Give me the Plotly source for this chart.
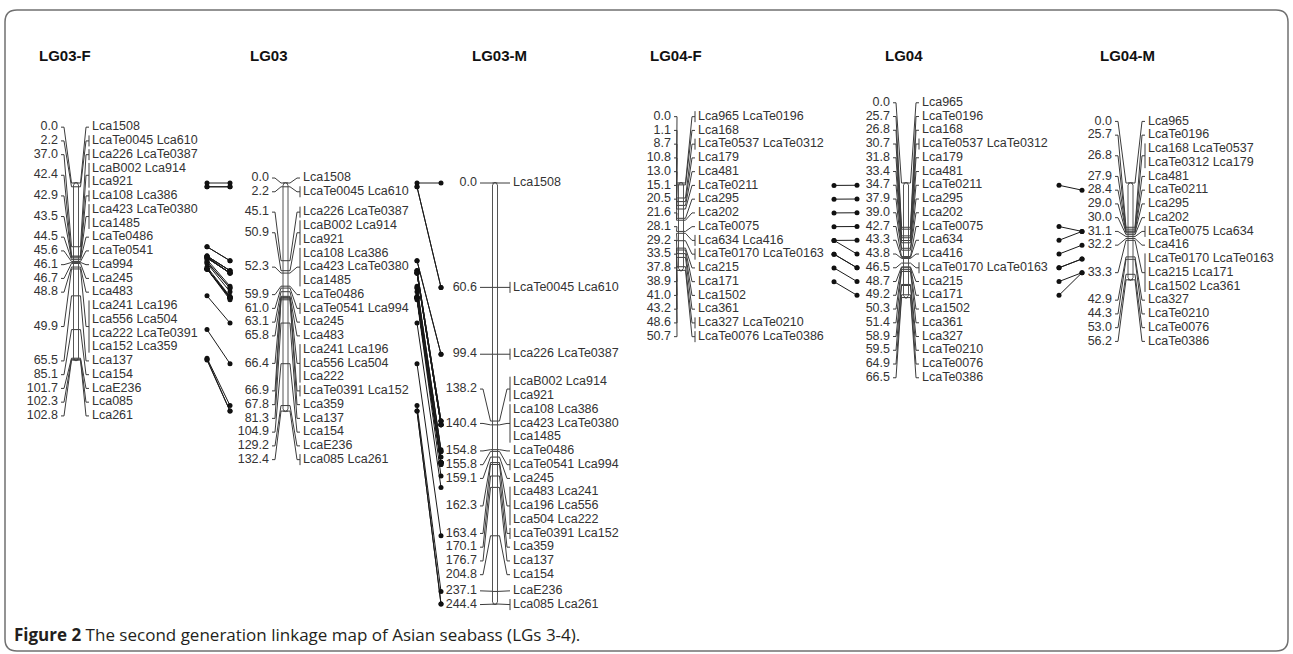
import plotly.graph_objects as go

# ---------------- data ----------------
TITLES = ["LG03-F", "LG03", "LG03-M", "LG04-F", "LG04", "LG04-M"]

LG03F_pos = [0.0, 2.2, 37.0, 42.4, 42.9, 43.5, 44.5, 45.6, 46.1, 46.7, 48.8, 49.9, 65.5, 85.1, 101.7, 102.3, 102.8]
LG03F_loci = [["Lca1508"], ["LcaTe0045", "Lca610"], ["Lca226", "LcaTe0387"], ["LcaB002", "Lca914", "Lca921"],
              ["Lca108", "Lca386"], ["Lca423", "LcaTe0380", "Lca1485"], ["LcaTe0486"], ["LcaTe0541"], ["Lca994"],
              ["Lca245"], ["Lca483"],
              ["Lca241", "Lca196", "Lca556", "Lca504", "Lca222", "LcaTe0391", "Lca152", "Lca359"],
              ["Lca137"], ["Lca154"], ["LcaE236"], ["Lca085"], ["Lca261"]]

LG03_pos = [0.0, 2.2, 45.1, 50.9, 52.3, 59.9, 61.0, 63.1, 65.8, 66.4, 66.9, 67.8, 81.3, 104.9, 129.2, 132.4]
LG03_loci = [["Lca1508"], ["LcaTe0045", "Lca610"], ["Lca226", "LcaTe0387"], ["LcaB002", "Lca914", "Lca921"],
             ["Lca108", "Lca386", "Lca423", "LcaTe0380", "Lca1485"], ["LcaTe0486"], ["LcaTe0541", "Lca994"],
             ["Lca245"], ["Lca483"], ["Lca241", "Lca196", "Lca556", "Lca504", "Lca222"],
             ["LcaTe0391", "Lca152"], ["Lca359"], ["Lca137"], ["Lca154"], ["LcaE236"], ["Lca085", "Lca261"]]

LG03M_pos = [0.0, 60.6, 99.4, 138.2, 140.4, 154.8, 155.8, 159.1, 162.3, 163.4, 170.1, 176.7, 204.8, 237.1, 244.4]
LG03M_loci = [["Lca1508"], ["LcaTe0045", "Lca610"], ["Lca226", "LcaTe0387"], ["LcaB002", "Lca914", "Lca921"],
              ["Lca108", "Lca386", "Lca423", "LcaTe0380", "Lca1485"], ["LcaTe0486"], ["LcaTe0541", "Lca994"],
              ["Lca245"], ["Lca483", "Lca241", "Lca196", "Lca556", "Lca504", "Lca222"],
              ["LcaTe0391", "Lca152"], ["Lca359"], ["Lca137"], ["Lca154"], ["LcaE236"], ["Lca085", "Lca261"]]

LG04F_pos = [0.0, 1.1, 8.7, 10.8, 13.0, 15.1, 20.5, 21.6, 28.1, 29.2, 33.5, 37.8, 38.9, 41.0, 43.2, 48.6, 50.7]
LG04F_loci = [["Lca965", "LcaTe0196"], ["Lca168"], ["LcaTe0537", "LcaTe0312"], ["Lca179"], ["Lca481"],
              ["LcaTe0211"], ["Lca295"], ["Lca202"], ["LcaTe0075"], ["Lca634", "Lca416"],
              ["LcaTe0170", "LcaTe0163"], ["Lca215"], ["Lca171"], ["Lca1502"], ["Lca361"],
              ["Lca327", "LcaTe0210"], ["LcaTe0076", "LcaTe0386"]]

LG04_pos = [0.0, 25.7, 26.8, 30.7, 31.8, 33.4, 34.7, 37.9, 39.0, 42.7, 43.3, 43.8, 46.5, 48.7, 49.2,
            50.3, 51.4, 58.9, 59.5, 64.9, 66.5]
LG04_loci = [["Lca965"], ["LcaTe0196"], ["Lca168"], ["LcaTe0537", "LcaTe0312"], ["Lca179"], ["Lca481"],
             ["LcaTe0211"], ["Lca295"], ["Lca202"], ["LcaTe0075"], ["Lca634"], ["Lca416"],
             ["LcaTe0170", "LcaTe0163"], ["Lca215"], ["Lca171"], ["Lca1502"], ["Lca361"], ["Lca327"],
             ["LcaTe0210"], ["LcaTe0076"], ["LcaTe0386"]]

LG04M_pos = [0.0, 25.7, 26.8, 27.9, 28.4, 29.0, 30.0, 31.1, 32.2, 33.3, 42.9, 44.3, 53.0, 56.2]
LG04M_loci = [["Lca965"], ["LcaTe0196"], ["Lca168", "LcaTe0537", "LcaTe0312", "Lca179"], ["Lca481"],
              ["LcaTe0211"], ["Lca295"], ["Lca202"], ["LcaTe0075", "Lca634"], ["Lca416"],
              ["LcaTe0170", "LcaTe0163", "Lca215", "Lca171", "Lca1502", "Lca361"],
              ["Lca327"], ["LcaTe0210"], ["LcaTe0076"], ["LcaTe0386"]]

# markers linked between LG04 maps (drawn at label rows)
LINK_LG04F_LG04 = ["LcaTe0211", "Lca295", "Lca202", "LcaTe0075", "Lca634", "Lca416",
                   "LcaTe0170", "LcaTe0163", "Lca215", "Lca171"]
LINK_LG04_LG04M = ["LcaTe0211", "LcaTe0075", "Lca634", "Lca416", "LcaTe0170", "LcaTe0163",
                   "Lca215", "Lca171"]

CAPTION_BOLD = "Figure 2"
CAPTION_TEXT = "The second generation linkage map of Asian seabass (LGs 3-4)."

# ---------------- layout constants ----------------
W, H = 1293, 654
PX_PER_CM = 1.7226
TOP = 183
ROW = 13.75
BAR_HALF = 2.5
LINE_C = "#3c3c3c"
TEXT_C = "#333333"

# bar x, number gap, text gap, title x
GEOM = [(76, 18, 16, 37), (285.5, 16.5, 17.5, 248), (495, 18, 18, 470),
        (681, 10, 17, 648), (906, 16, 16, 883), (1130.5, 18.5, 17.5, 1098)]
DATA = [(LG03F_pos, LG03F_loci), (LG03_pos, LG03_loci), (LG03M_pos, LG03M_loci),
        (LG04F_pos, LG04F_loci), (LG04_pos, LG04_loci), (LG04M_pos, LG04M_loci)]


def chunk(names):
    return [" ".join(names[i:i + 2]) for i in range(0, len(names), 2)]


def layout_rows(pos, loci):
    nrows = [len(chunk(m)) for m in loci]
    desired = [TOP + p * PX_PER_CM for p in pos]
    blocks = [[i] for i in range(len(pos))]

    def place(b):
        c = (desired[b[0]] + desired[b[-1]]) / 2
        n = sum(nrows[i] for i in b)
        return c - n * ROW / 2, c + n * ROW / 2

    changed = True
    while changed:
        changed = False
        for k in range(len(blocks) - 2, -1, -1):
            _, b1 = place(blocks[k])
            t2, _ = place(blocks[k + 1])
            if b1 > t2 + 1e-6:
                blocks[k] = blocks[k] + blocks[k + 1]
                del blocks[k + 1]
                changed = True
                break
    rowy = {}
    for b in blocks:
        t, _ = place(b)
        y = t + ROW / 2
        for i in b:
            rowy[i] = [y + r * ROW for r in range(nrows[i])]
            y += nrows[i] * ROW
    return desired, rowy


fig = go.Figure()

lx, ly = [], []          # label leader lines
bx_, by_ = [], []        # chromosome outlines
num_x, num_y, num_t = [], [], []
nm_x, nm_y, nm_t = [], [], []
maps = []

for (pos, loci), (bx, ngap, tgap, _) in zip(DATA, GEOM):
    desired, rowy = layout_rows(pos, loci)
    mpos = {}
    mrow = {}
    yt, yb = desired[0], desired[-1]
    xl, xr = bx - BAR_HALF, bx + BAR_HALF
    bx_ += [xl, xl, bx, xr, xr, bx, xl, None]
    by_ += [yt + 2, yb - 2, yb + 1, yb - 2, yt + 2, yt - 1, yt + 2, None]
    for i, (p, names) in enumerate(zip(pos, loci)):
        my = desired[i]
        rows = rowy[i]
        rc = (rows[0] + rows[-1]) / 2
        for r, txt in zip(rows, chunk(names)):
            nm_x.append(bx + tgap); nm_y.append(r); nm_t.append(txt)
        for k, nmk in enumerate(names):
            mpos[nmk] = my
            mrow[nmk] = rows[k // 2]
        num_x.append(bx - ngap); num_y.append(rc); num_t.append(f"{p:.1f}")
        lx += [bx - ngap + 3, bx - ngap + 6, xl - 2, xr, None]
        ly += [rc, rc, my, my, None]
        endx = bx + tgap - 3
        lx += [xr, xr + 2, endx - 3, endx, None]
        ly += [my, my, rc, rc, None]
        if len(names) > 1:
            lx += [endx, endx, None]
            ly += [rows[0] - 5.5, rows[-1] + 5.5, None]
    maps.append((mpos, mrow))

cx, cy = [], []
dx, dy = [], []
pairs = [(0, 1, 207, 230, None), (1, 2, 417, 441, None),
         (3, 4, 834, 857, LINK_LG04F_LG04), (4, 5, 1059, 1082, LINK_LG04_LG04M)]
for a, b, xa, xb, subset in pairs:
    pa, ra = maps[a]
    pb, rb = maps[b]
    if subset is None:
        common = [m for m in pa if m in pb]
        src_a, src_b = pa, pb
    else:
        common = subset
        src_a, src_b = ra, rb
    for m in common:
        ya, yb2 = src_a[m], src_b[m]
        cx += [xa, xb, None]
        cy += [ya, yb2, None]
        dx += [xa, xb]
        dy += [ya, yb2]

fig.add_trace(go.Scatter(x=lx, y=ly, mode="lines", line=dict(color=LINE_C, width=1),
                         hoverinfo="skip", showlegend=False))
fig.add_trace(go.Scatter(x=bx_, y=by_, mode="lines", line=dict(color="#555555", width=1),
                         fill="toself", fillcolor="white", hoverinfo="skip", showlegend=False))
tx, ty = [], []
for (pos, loci), (bx, ngap, tgap, _) in zip(DATA, GEOM):
    for p in pos:
        y = TOP + p * PX_PER_CM
        tx += [bx - BAR_HALF, bx + BAR_HALF, None]
        ty += [y, y, None]
fig.add_trace(go.Scatter(x=tx, y=ty, mode="lines", line=dict(color=LINE_C, width=1),
                         hoverinfo="skip", showlegend=False))
fig.add_trace(go.Scatter(x=cx, y=cy, mode="lines", line=dict(color="#1a1a1a", width=1),
                         hoverinfo="skip", showlegend=False))
fig.add_trace(go.Scatter(x=dx, y=dy, mode="markers", marker=dict(color="#111111", size=5),
                         hoverinfo="skip", showlegend=False))
fig.add_trace(go.Scatter(x=num_x, y=num_y, text=num_t, mode="text", textposition="middle left",
                         textfont=dict(family="Arial, Liberation Sans", size=12.5, color=TEXT_C),
                         hoverinfo="skip", showlegend=False))
fig.add_trace(go.Scatter(x=nm_x, y=nm_y, text=nm_t, mode="text", textposition="middle right",
                         textfont=dict(family="Arial, Liberation Sans", size=12.5, color=TEXT_C),
                         hoverinfo="skip", showlegend=False))

for title, g in zip(TITLES, GEOM):
    fig.add_annotation(x=g[3], y=55, text=f"<b>{title}</b>", showarrow=False, xanchor="left",
                       yanchor="middle", font=dict(family="Arial, Liberation Sans", size=15, color="#111111"))

fig.add_annotation(x=12, y=634, text=f"<b>{CAPTION_BOLD}</b> {CAPTION_TEXT}", showarrow=False,
                   xanchor="left", yanchor="middle",
                   font=dict(family="Open Sans", size=17, color="#231f20"))

r = 12
x0, y0, x1, y1 = 5, 10, 1288, 651
path = (f"M{x0 + r},{y0} L{x1 - r},{y0} Q{x1},{y0} {x1},{y0 + r} L{x1},{y1 - r} Q{x1},{y1} {x1 - r},{y1} "
        f"L{x0 + r},{y1} Q{x0},{y1} {x0},{y1 - r} L{x0},{y0 + r} Q{x0},{y0} {x0 + r},{y0} Z")
fig.add_shape(type="path", path=path, line=dict(color="#707070", width=1.5), layer="below")

fig.update_layout(width=W, height=H, margin=dict(l=0, r=0, t=0, b=0),
                  paper_bgcolor="white", plot_bgcolor="white",
                  xaxis=dict(range=[0, W], visible=False, fixedrange=True),
                  yaxis=dict(range=[H, 0], visible=False, fixedrange=True))

fig.write_html("out.html", post_script="document.body.style.margin='0';", config={"displayModeBar": False})
